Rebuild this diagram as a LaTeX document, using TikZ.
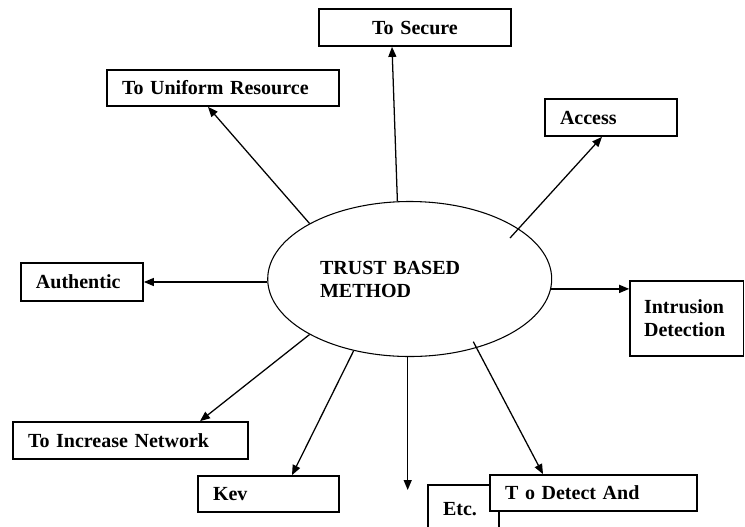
\documentclass[tikz,border=0pt]{standalone}
\usepackage{fontspec}
\setmainfont{Liberation Serif}
\usetikzlibrary{arrows.meta,calc,shapes.geometric}
\tikzset{
  lbl/.style={font=\fontsize{15}{17.25}\selectfont\bfseries},
  box/.style={lbl, draw=black, line width=1.3pt, fill=white, inner xsep=11.25pt, inner ysep=0pt, align=left},
  ovalnode/.style={lbl, draw=black, line width=0.8pt, ellipse, inner sep=0pt, minimum width=213pt, minimum height=116.25pt, text width=134.5pt, align=left},
  arr/.style={draw=black, line width=0.95pt, -{Triangle[length=7.5pt,width=6pt]}}
}
\begin{document}
\begin{tikzpicture}[x=0.75pt,y=-0.75pt]
\clip (0,0) rectangle (745,526);
\fill[white] (0,0) rectangle (745,526);

\node[ovalnode] (ell) at (409.7,279) {TRUST BASED\\METHOD};

\node[box, text width=121.5pt, align=center, minimum height=27.75pt] (secure) at (415,27.5) {To Secure};
\node[box, text width=151.5pt, minimum height=27pt] (uniform) at (223,88) {To Uniform Resource};
\node[box, text width=76.5pt, minimum height=27.75pt] (access) at (611,117.5) {Access};
\node[box, text width=69pt, minimum height=28.5pt] (authentic) at (82,282) {Authentic};
\node[box, text width=64pt, inner xsep=10.5pt, minimum height=56.25pt] (intrusion) at (686.75,318.5) {Intrusion\\Detection};
\node[box, text width=153.75pt, minimum height=27.75pt] (increase) at (130.5,440.5) {To Increase Network};
\node[box, text width=83.25pt, minimum height=27pt] (kev) at (268.5,494) {Kev};
\node[box, text width=30.75pt, minimum height=36pt] (etc) at (463.5,509) {Etc.};
\node[box, text width=132.75pt, minimum height=27pt] (detect) at (593.5,493) {T o Detect And};

\coordinate (etcend) at (407.7,490);

\draw[arr] (ell.151.2) -- ($(uniform.south)+(-15,0)$);
\draw[arr] (ell.99.4) -- ($(secure.south)+(-23,0)$);
\draw[arr] ($(ell.center)+(100.3,-41)$) -- ($(access.south)+(-9,0)$);
\draw[arr] (authentic.east -| ell.west) -- (authentic.east);
\draw[arr] (ell.-4.5) -- (ell.-4.5 -| intrusion.west);
\draw[arr] (ell.209.6) -- ($(increase.north)+(69.5,0)$);
\draw[arr] (ell.232.7) -- ($(kev.north)+(23.5,0)$);
\draw[arr] (ell.south -| etcend) -- (etcend);
\draw[arr] ($(ell.center)+(63.6,62.7)$) -- ($(detect.north)+(-50.5,0)$);
\end{tikzpicture}
\end{document}
